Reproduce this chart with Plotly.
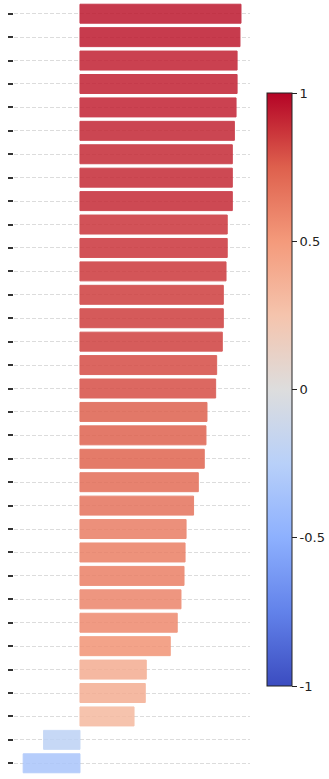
import plotly.graph_objects as go
from plotly.colors import sample_colorscale

# Data (top bar first)
features = [f"feature_{i+1}" for i in range(33)]
values = [0.947, 0.941, 0.924, 0.924, 0.918, 0.908, 0.896, 0.896, 0.896,
          0.866, 0.866, 0.859, 0.843, 0.843, 0.837, 0.804, 0.798, 0.747,
          0.741, 0.731, 0.696, 0.668, 0.624, 0.618, 0.612, 0.594, 0.572,
          0.531, 0.390, 0.384, 0.318, -0.214, -0.334]
cbar_tickvals = [1, 0.5, 0, -0.5, -1]
cbar_ticktext = ["1", "0.5", "0", "-0.5", "-1"]

coolwarm = [
    [0.0, "rgb(59,76,192)"],
    [0.125, "rgb(98,130,234)"],
    [0.25, "rgb(141,176,254)"],
    [0.375, "rgb(184,208,249)"],
    [0.5, "rgb(221,221,221)"],
    [0.625, "rgb(245,196,173)"],
    [0.75, "rgb(244,154,123)"],
    [0.875, "rgb(222,96,77)"],
    [1.0, "rgb(180,4,38)"],
]

line_colors = sample_colorscale(coolwarm, [(v + 1) / 2 for v in values])

fig = go.Figure(go.Bar(
    x=values,
    y=features,
    orientation="h",
    opacity=0.85,
    marker=dict(
        color=values,
        colorscale=coolwarm,
        cmin=-1, cmax=1,
        line=dict(color=line_colors, width=1),
        colorbar=dict(
            tickvals=cbar_tickvals,
            ticktext=cbar_ticktext,
            ticks="outside",
            ticklen=5,
            tickcolor="#222",
            thickness=25,
            lenmode="pixels",
            len=593,
            x=1.072,
            xanchor="left",
            xpad=0,
            y=0.4987,
            yanchor="middle",
            ypad=0,
            outlinewidth=1,
            outlinecolor="#222",
            tickfont=dict(family="DejaVu Sans", size=13, color="#222"),
        ),
    ),
))

fig.update_layout(
    width=329, height=779,
    margin=dict(l=14, r=79, t=2, b=4, autoexpand=False),
    paper_bgcolor="white",
    plot_bgcolor="white",
    bargap=0.19,
    showlegend=False,
    font=dict(family="DejaVu Sans"),
)
fig.update_xaxes(range=[-0.388, 1.0], showgrid=False, zeroline=False,
                 showticklabels=False, showline=False)
fig.update_yaxes(autorange="reversed", showticklabels=False,
                 ticks="outside", ticklen=5, tickwidth=2, tickcolor="#333",
                 showgrid=True, gridcolor="#dcdcdc", gridwidth=1,
                 griddash="4px,2px", showline=False, zeroline=False)

fig.write_html("out.html",
               config={"displayModeBar": False},
               post_script="document.body.style.margin='0';"
                           "document.body.style.overflow='hidden';")
